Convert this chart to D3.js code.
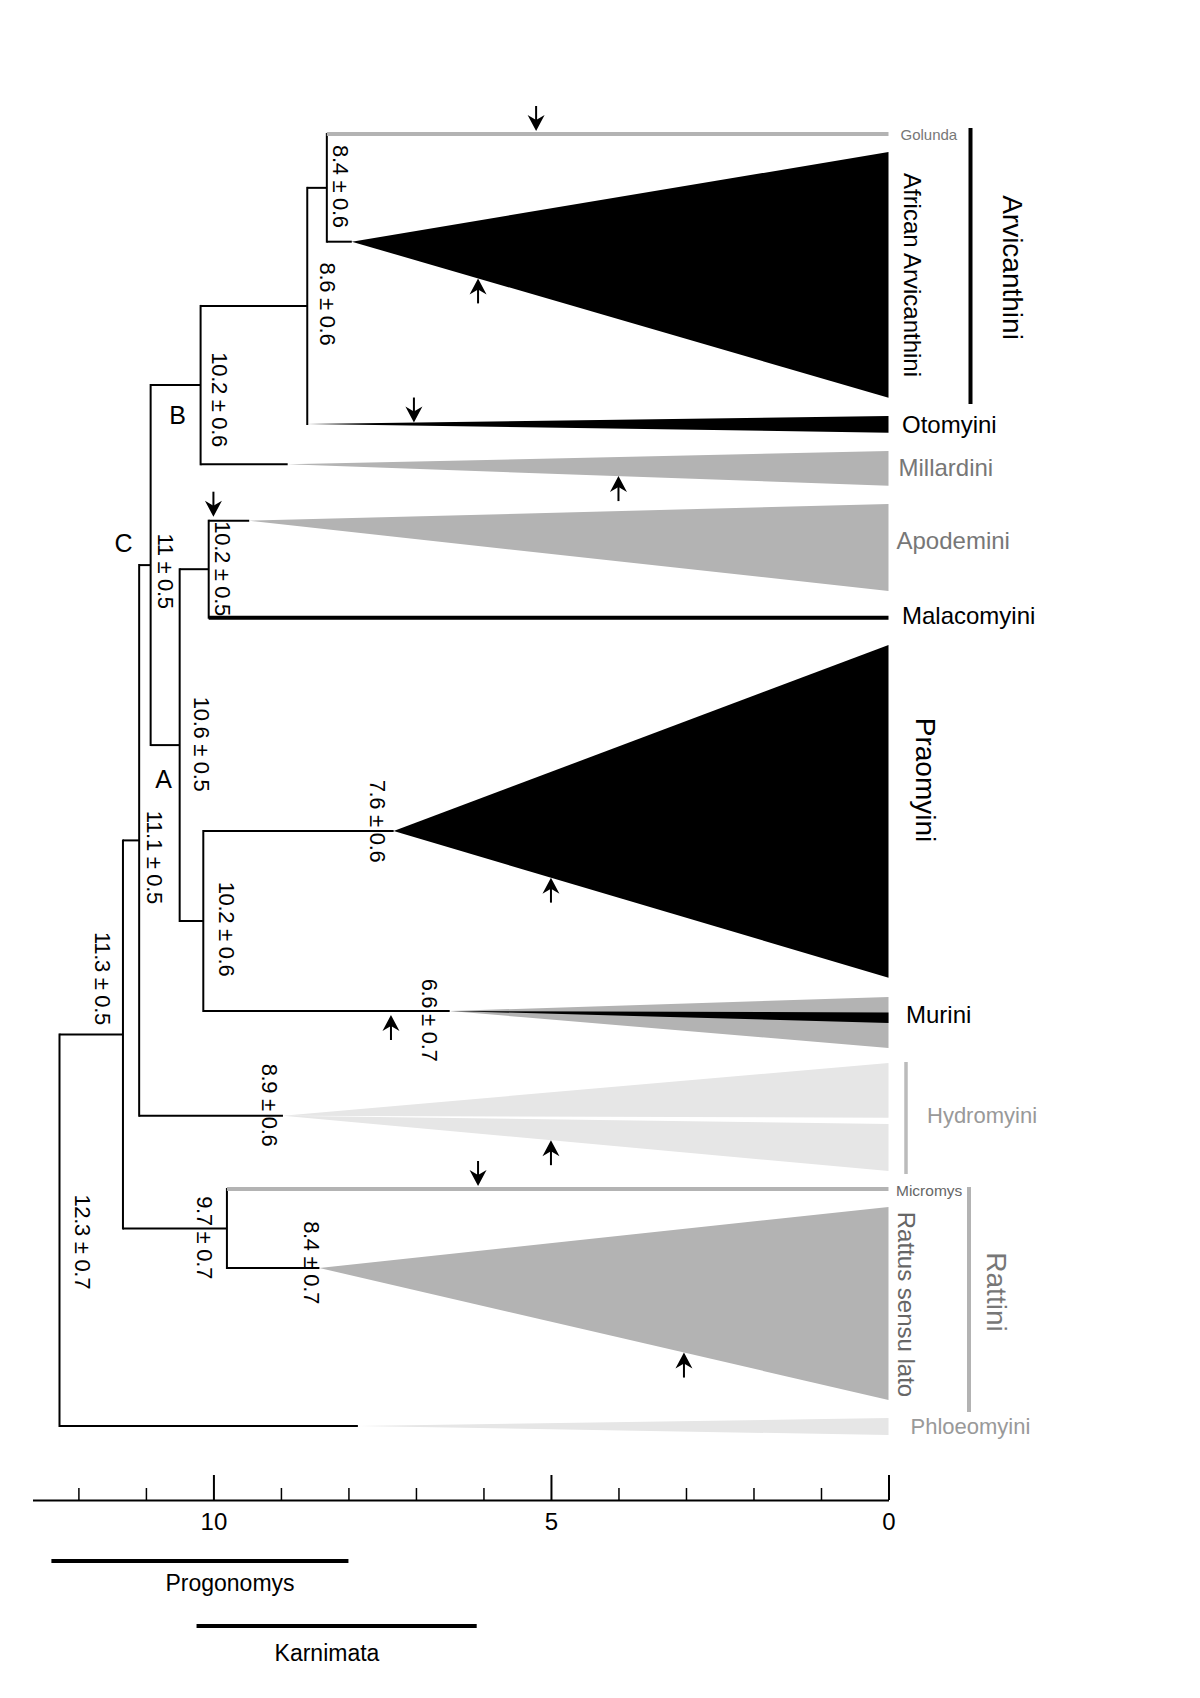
<!DOCTYPE html>
<html>
<head>
<meta charset="utf-8">
<script src="https://cdn.jsdelivr.net/npm/d3@7"></script>
<style>
  body { margin: 0; background: #fff; }
  svg { display: block; font-family: "Liberation Sans", Arial, Helvetica, sans-serif; }
</style>
</head>
<body>
<script>
// time axis (Ma)
var axisExtent = [12.68, 0];
var majorTicks = [0, 5, 10];
var minorTicks = [1, 2, 3, 4, 6, 7, 8, 9, 11, 12];

// fossil ranges under the axis
var fossils = [
    { name: "Progonomys", from: 12.4, to: 8.0 },
    { name: "Karnimata", from: 10.25, to: 6.1 }
];

// internal nodes: age = position on the time axis, est/err = printed estimate
var internalNodes = [
    { id: "root", parent: "", age: 12.28, est: 12.3, err: 0.7 },
    { id: "n113", parent: "root", age: 11.34, est: 11.3, err: 0.5 },
    { id: "n111", parent: "n113", age: 11.10, est: 11.1, err: 0.5 },
    { id: "C", parent: "n111", age: 10.93, est: 11, err: 0.5, letter: "C" },
    { id: "B", parent: "C", age: 10.19, est: 10.2, err: 0.6, letter: "B" },
    { id: "n86", parent: "B", age: 8.61, est: 8.6, err: 0.6 },
    { id: "n84", parent: "n86", age: 8.32, est: 8.4, err: 0.6 },
    { id: "A", parent: "C", age: 10.50, est: 10.6, err: 0.5, letter: "A" },
    { id: "n102a", parent: "A", age: 10.07, est: 10.2, err: 0.5 },
    { id: "n102b", parent: "A", age: 10.15, est: 10.2, err: 0.6 },
    { id: "rat", parent: "n113", age: 9.80, est: 9.7, err: 0.7 }
];

// terminal clades: stem = age of the wedge apex, row/top/bottom = tip order units
var clades = [
    { id: "Golunda", parent: "n84", kind: "line", row: 0 },
    { id: "African Arvicanthini", parent: "n84", stem: 7.95, row: 10.77, top: 1.8, bottom: 26.37 },
    { id: "Otomyini", parent: "n86", stem: 8.61, row: 29.0, top: 28.2, bottom: 29.87 },
    { id: "Millardini", parent: "B", stem: 8.90, row: 33.03, top: 31.7, bottom: 35.17 },
    { id: "Apodemini", parent: "n102a", stem: 9.47, row: 38.67, top: 37.0, bottom: 45.7 },
    { id: "Malacomyini", parent: "n102a", kind: "line", row: 48.37 },
    { id: "Praomyini", parent: "n102b", stem: 7.33, row: 69.7, top: 51.1, bottom: 84.37, est: 7.6, err: 0.6 },
    { id: "Murini", parent: "n102b", stem: 6.50, row: 87.7, top: 86.3, bottom: 91.4, core: [87.85, 88.9], est: 6.6, err: 0.7 },
    { id: "Hydromyini", parent: "n111", stem: 8.97, row: 98.17, top: 92.9, bottom: 103.7, gap: [98.37, 99.0], est: 8.9, err: 0.6 },
    { id: "Micromys", parent: "rat", kind: "line", row: 105.5 },
    { id: "Rattus sensu lato", parent: "rat", stem: 8.43, row: 113.4, top: 107.3, bottom: 126.6, est: 8.4, err: 0.7 },
    { id: "Phloeomyini", parent: "root", stem: 7.86, row: 129.2, top: 128.4, bottom: 130.1 }
];

// arrows on branches
var arrows = [
    { clade: "Golunda", age: 5.22, dir: "down" },
    { clade: "African Arvicanthini", age: 6.08, dir: "up" },
    { clade: "Otomyini", age: 7.03, dir: "down" },
    { clade: "Millardini", age: 4.0, dir: "up" },
    { clade: "Apodemini", age: 10.0, dir: "down" },
    { clade: "Praomyini", age: 5.0, dir: "up" },
    { clade: "Murini", age: 7.37, dir: "up" },
    { clade: "Hydromyini", age: 5.0, dir: "up" },
    { clade: "Micromys", age: 6.08, dir: "down" },
    { clade: "Rattus sensu lato", age: 3.03, dir: "up" }
];

// bracketed groups
var groups = [
    { name: "Arvicanthini", top: -0.6, bottom: 27.0 },
    { name: "Hydromyini", top: 92.8, bottom: 104.0 },
    { name: "Rattini", top: 105.3, bottom: 127.8 }
];

// ---- styles / layout ----
var fills = {
    "Golunda": "#b3b3b3", "African Arvicanthini": "#000", "Otomyini": "#000",
    "Millardini": "#b3b3b3", "Apodemini": "#b3b3b3", "Malacomyini": "#000",
    "Praomyini": "#000", "Murini": "#b3b3b3", "Hydromyini": "#e6e6e6",
    "Micromys": "#b3b3b3", "Rattus sensu lato": "#b3b3b3", "Phloeomyini": "#e6e6e6"
};
// clade name labels: dx from age 0, row, size, colour, rotated
var cladeLabels = {
    "Golunda": [12, 0, 15, "#777"],
    "African Arvicanthini": [23.5, 14.1, 24, "#000", true],
    "Otomyini": [13.5, 29.0, 24, "#000"],
    "Millardini": [10, 33.37, 24, "#777"],
    "Apodemini": [8, 40.6, 24, "#777"],
    "Malacomyini": [13.5, 48.1, 24, "#000"],
    "Praomyini": [36.5, 64.6, 28, "#000", true],
    "Murini": [17.5, 88.07, 24, "#000"],
    "Hydromyini": [38.5, 98.13, 22, "#999"],
    "Micromys": [7.5, 105.6, 15.5, "#666"],
    "Rattus sensu lato": [17.5, 117.05, 24, "#666", true],
    "Phloeomyini": [22, 129.27, 22, "#999"]
};
var groupStyle = {
    "Arvicanthini": { dx: 82, color: "#000", w: 4, label: [124, 13.35, 28, "#000"] },
    "Hydromyini": { dx: 17.5, color: "#bbb", w: 3.5 },
    "Rattini": { dx: 80.5, color: "#b3b3b3", w: 4, label: [107.5, 115.8, 28, "#777"] }
};
// date label centre offsets from node
var dateOffsets = {
    "n84": [13.6, -1.5], "n86": [20, -2], "B": [19, 14.5], "n102a": [13.5, -0.5],
    "C": [15, 6], "A": [21.7, -1], "n111": [15, 17], "Praomyini": [-16, -10],
    "n102b": [23.4, 8], "Murini": [-19.7, 9], "n113": [-20, -56], "Hydromyini": [-13.5, -10.7],
    "rat": [-22, 9], "Rattus sensu lato": [-8, -5.5], "root": [22.7, 11.5]
};
var letterOffsets = { "C": [-27, -22], "B": [-23, 30], "A": [-16, 34] };

var width = 1200, height = 1698;

var x = d3.scaleLinear().domain(axisExtent).range([32.5, 888.5]);
var y = d3.scaleLinear().domain([0, 130]).range([134, 1434]);

var svg = d3.select("body").append("svg")
    .attr("width", width)
    .attr("height", height);

svg.append("rect").attr("width", width).attr("height", height).attr("fill", "#fff");

var root = d3.stratify()
    .id(function(d) { return d.id; })
    .parentId(function(d) { return d.parent || null; })(internalNodes.concat(clades));

root.eachAfter(function(n) {
    if (n.children) {
        var rows = n.children.map(function(c) { return c.row; });
        n.row = (d3.min(rows) + d3.max(rows)) / 2;
    } else {
        n.row = n.data.row;
    }
});

function stemAge(n) {
    if (n.children) return n.data.age;
    return n.data.kind === "line" ? 0 : n.data.stem;
}

var tips = root.leaves();

// wedges
var gW = svg.append("g");
tips.filter(function(n) { return n.data.kind !== "line"; }).forEach(function(n) {
    var d = n.data;
    var ax = x(d.stem), ay = y(d.row), ex = x(0);
    var parts = d.gap ? [[d.top, d.gap[0]], [d.gap[1], d.bottom]] : [[d.top, d.bottom]];
    parts.forEach(function(p) {
        gW.append("path")
            .attr("d", "M" + ax + "," + ay + "L" + ex + "," + y(p[0]) + "L" + ex + "," + y(p[1]) + "Z")
            .attr("fill", fills[d.id]);
    });
    if (d.core) {
        gW.append("path")
            .attr("d", "M" + ax + "," + ay + "L" + ex + "," + y(d.core[0]) + "L" + ex + "," + y(d.core[1]) + "Z")
            .attr("fill", "#000");
    }
});

// branches
var gB = svg.append("g").attr("fill", "none");
root.descendants().forEach(function(n) {
    if (n.parent) {
        var isLine = !n.children && n.data.kind === "line";
        gB.append("path")
            .attr("d", "M" + x(n.parent.data.age) + "," + y(n.row) + "H" + x(stemAge(n)))
            .attr("stroke", isLine ? fills[n.data.id] : "#000")
            .attr("stroke-width", isLine ? 4 : 2);
    }
    if (n.children) {
        var rows = n.children.map(function(c) { return c.row; });
        gB.append("path")
            .attr("d", "M" + x(n.data.age) + "," + (y(d3.min(rows)) - 1) + "V" + (y(d3.max(rows)) + 1))
            .attr("stroke", "#000")
            .attr("stroke-width", 2);
    }
});

// arrows
function edgeY(n, age, side) {
    var d = n.data;
    if (d.kind === "line") return y(d.row) + side * 3;
    if (age >= d.stem) return y(d.row) + side * 4;
    var t = (x(age) - x(d.stem)) / (x(0) - x(d.stem));
    var edge = side < 0 ? d.top : d.bottom;
    return y(d.row) + t * (y(edge) - y(d.row));
}
var gA = svg.append("g");
arrows.forEach(function(a) {
    var n = tips.find(function(t) { return t.data.id === a.clade; });
    var s = a.dir === "down" ? -1 : 1;
    var tx = x(a.age), ty = edgeY(n, a.age, s);
    gA.append("line")
        .attr("x1", tx).attr("x2", tx)
        .attr("y1", ty + s * 25).attr("y2", ty + s * 8)
        .attr("stroke", "#000").attr("stroke-width", 2);
    gA.append("path")
        .attr("d", "M" + tx + "," + ty + "L" + (tx - 8.5) + "," + (ty + s * 16) +
            "L" + tx + "," + (ty + s * 11) + "L" + (tx + 8.5) + "," + (ty + s * 16) + "Z")
        .attr("fill", "#000");
});

// date labels
var gD = svg.append("g").attr("font-size", 22).attr("fill", "#000");
root.descendants().forEach(function(n) {
    var d = n.data;
    if (d.est === undefined) return;
    var off = dateOffsets[d.id];
    var cx = x(stemAge(n)) + off[0], cy = y(n.row) + off[1];
    gD.append("text")
        .attr("transform", "translate(" + cx + "," + cy + ") rotate(90)")
        .attr("text-anchor", "middle")
        .attr("dominant-baseline", "central")
        .attr("letter-spacing", -0.3)
        .text(d.est + " \u00b1 " + d.err);
    if (d.letter) {
        var lo = letterOffsets[d.id];
        svg.append("text")
            .attr("x", x(d.age) + lo[0]).attr("y", y(n.row) + lo[1])
            .attr("text-anchor", "middle")
            .attr("dominant-baseline", "central")
            .attr("font-size", 25)
            .text(d.letter);
    }
});

// clade labels
function addLabel(dx, row, size, color, rotated, txt) {
    var t = svg.append("text")
        .attr("font-size", size)
        .attr("fill", color)
        .attr("dominant-baseline", "central")
        .text(txt);
    if (rotated) {
        t.attr("text-anchor", "middle")
            .attr("transform", "translate(" + (x(0) + dx) + "," + y(row) + ") rotate(90)");
    } else {
        t.attr("x", x(0) + dx).attr("y", y(row));
    }
}
tips.forEach(function(n) {
    var l = cladeLabels[n.data.id];
    addLabel(l[0], l[1], l[2], l[3], l[4], n.data.id);
});

// group brackets
groups.forEach(function(g) {
    var st = groupStyle[g.name];
    svg.append("line")
        .attr("x1", x(0) + st.dx).attr("x2", x(0) + st.dx)
        .attr("y1", y(g.top)).attr("y2", y(g.bottom))
        .attr("stroke", st.color).attr("stroke-width", st.w);
    if (st.label) addLabel(st.label[0], st.label[1], st.label[2], st.label[3], true, g.name);
});

// axis
var axisY = 1500;
var gAx = svg.append("g").attr("transform", "translate(0," + axisY + ")");
gAx.append("g")
    .call(d3.axisTop(x).tickValues(majorTicks).tickSize(25).tickSizeOuter(0).tickFormat(""))
    .call(function(g) {
        g.select(".domain").attr("stroke-width", 2);
        g.selectAll(".tick line").attr("stroke-width", 2);
    });
gAx.append("g")
    .call(d3.axisTop(x).tickValues(minorTicks).tickSize(12).tickFormat(""))
    .call(function(g) {
        g.select(".domain").remove();
        g.selectAll(".tick line").attr("stroke-width", 1.5);
    });
gAx.append("g")
    .call(d3.axisBottom(x).tickValues(majorTicks).tickSize(0).tickPadding(13).tickFormat(d3.format("d")))
    .call(function(g) {
        g.select(".domain").remove();
        g.selectAll("text")
            .attr("font-size", 24)
            .attr("font-family", "Liberation Sans, Arial, Helvetica, sans-serif")
            .attr("fill", "#000");
    });

// fossil ranges
var fossilLayout = [[1561, 230, 1591], [1626, 327, 1661]];
fossils.forEach(function(f, i) {
    var L = fossilLayout[i];
    svg.append("line")
        .attr("x1", x(f.from)).attr("x2", x(f.to))
        .attr("y1", L[0]).attr("y2", L[0])
        .attr("stroke", "#000").attr("stroke-width", 4);
    svg.append("text")
        .attr("x", L[1]).attr("y", L[2])
        .attr("text-anchor", "middle")
        .attr("font-size", 23)
        .text(f.name);
});
</script>
</body>
</html>
